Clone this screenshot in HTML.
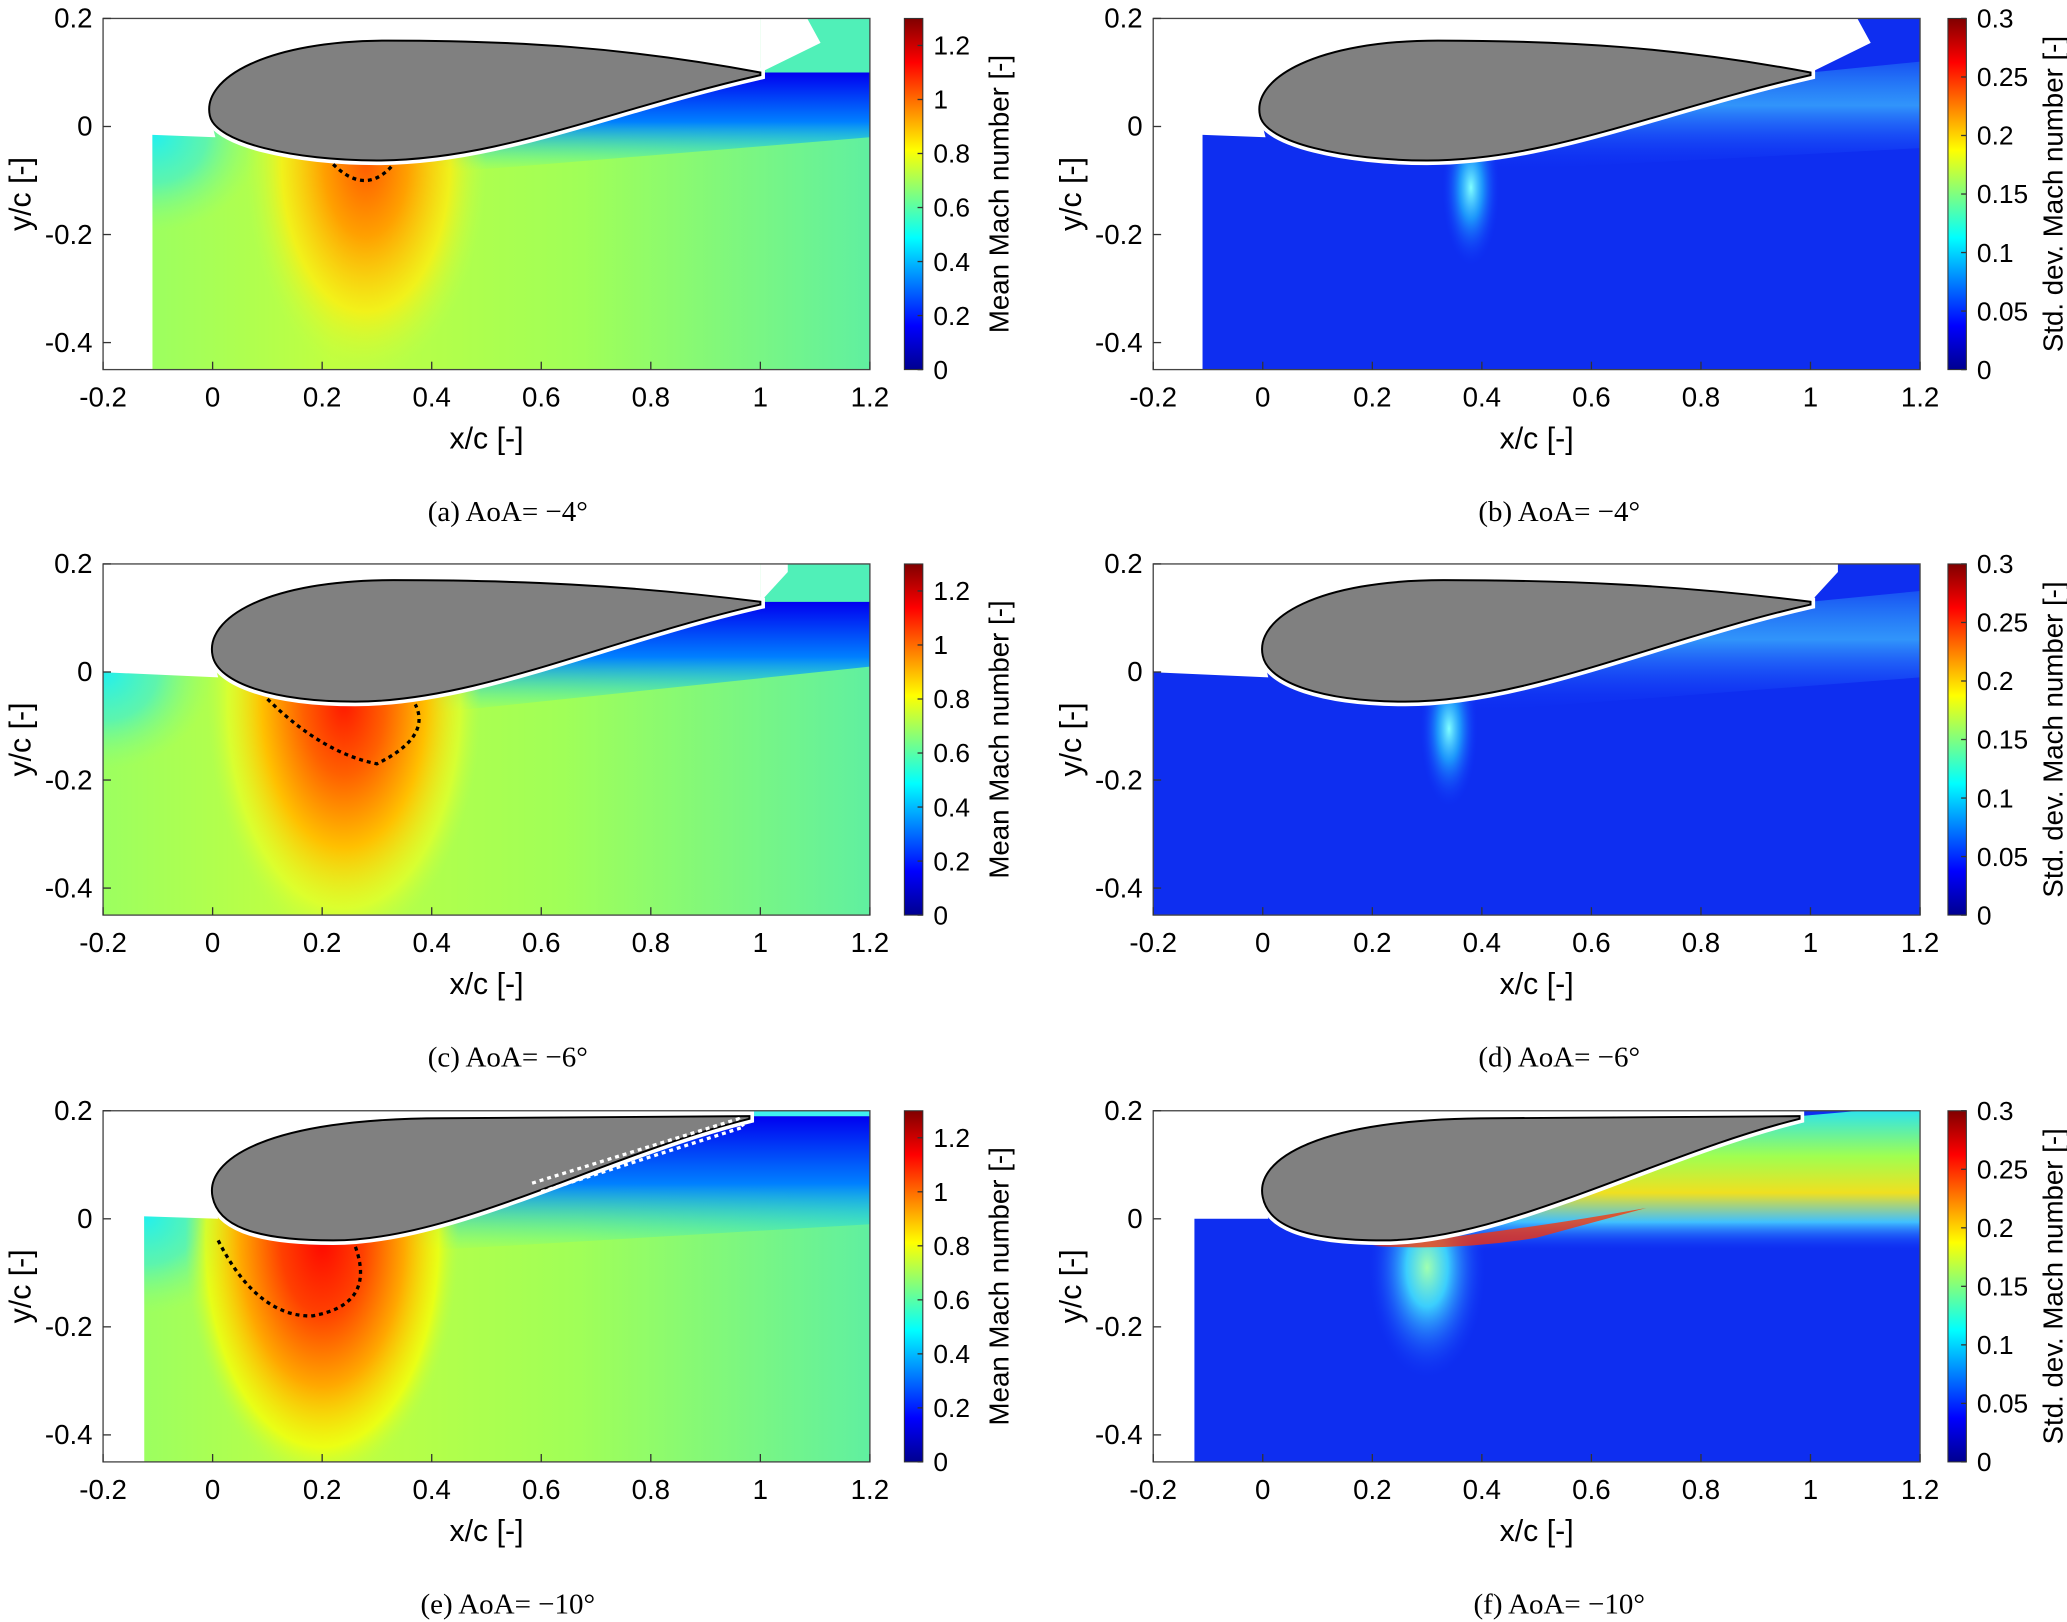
<!DOCTYPE html>
<html><head><meta charset="utf-8"><style>
html,body{margin:0;padding:0;background:#fff;}
svg{display:block;}
text{font-family:"Liberation Sans",sans-serif;}
.cap{font-family:"Liberation Serif",serif;font-size:22px;}
</style></head><body>
<svg id="fig" width="2067" height="1622" viewBox="0 0 1568 1231" xmlns="http://www.w3.org/2000/svg">
<defs id="defs">
<linearGradient id="jet" x1="0" y1="1" x2="0" y2="0">
<stop offset="0" stop-color="#00008f"/><stop offset="0.125" stop-color="#0000ff"/><stop offset="0.375" stop-color="#00ffff"/><stop offset="0.625" stop-color="#ffff00"/><stop offset="0.875" stop-color="#ff0000"/><stop offset="1" stop-color="#800000"/>
</linearGradient>
<linearGradient id="baseM" x1="0" y1="0" x2="1" y2="0"><stop offset="0" stop-color="#9cff60"/><stop offset="0.25" stop-color="#c0ff40"/><stop offset="0.6" stop-color="#a0ff58"/><stop offset="1" stop-color="#60f0a0"/></linearGradient>
<radialGradient id="lePatch" cx="0.5" cy="0.5" r="0.5"><stop offset="0" stop-color="#20f0f0"/><stop offset="0.5" stop-color="#40f0d0" stop-opacity="0.7"/><stop offset="1" stop-color="#80ff80" stop-opacity="0"/></radialGradient>
<radialGradient id="bubA" cx="0.5" cy="0.5" r="0.5"><stop offset="0" stop-color="#ff5a00"/><stop offset="0.35" stop-color="#ffa000"/><stop offset="0.7" stop-color="#ffee10" stop-opacity="0.8"/><stop offset="1" stop-color="#c8ff40" stop-opacity="0"/></radialGradient>
<radialGradient id="bubC" cx="0.5" cy="0.5" r="0.5"><stop offset="0" stop-color="#ff1800"/><stop offset="0.3" stop-color="#ff6000"/><stop offset="0.6" stop-color="#ffc000"/><stop offset="0.85" stop-color="#f0ff20" stop-opacity="0.6"/><stop offset="1" stop-color="#c8ff40" stop-opacity="0"/></radialGradient>
<radialGradient id="bubE" cx="0.5" cy="0.5" r="0.5"><stop offset="0" stop-color="#ff0800"/><stop offset="0.3" stop-color="#ff4000"/><stop offset="0.6" stop-color="#ffa800"/><stop offset="0.85" stop-color="#ffff00" stop-opacity="0.7"/><stop offset="1" stop-color="#c0ff40" stop-opacity="0"/></radialGradient>
<radialGradient id="spot" cx="0.5" cy="0.5" r="0.5"><stop offset="0" stop-color="#80ffff"/><stop offset="0.4" stop-color="#20b0ff" stop-opacity="0.8"/><stop offset="1" stop-color="#1030ff" stop-opacity="0"/></radialGradient>
<radialGradient id="spotF" cx="0.5" cy="0.5" r="0.5"><stop offset="0" stop-color="#a0ffb0"/><stop offset="0.35" stop-color="#40e0ff" stop-opacity="0.9"/><stop offset="1" stop-color="#1030ff" stop-opacity="0"/></radialGradient>
<linearGradient id="wakeM" x1="0" y1="0" x2="0" y2="1"><stop offset="0" stop-color="#0000f0"/><stop offset="0.5" stop-color="#0080ff"/><stop offset="1" stop-color="#20ffe0" stop-opacity="0"/></linearGradient>
<linearGradient id="wakeS" x1="0" y1="0" x2="0" y2="1"><stop offset="0" stop-color="#40e0ff" stop-opacity="0.2"/><stop offset="0.4" stop-color="#40c0ff" stop-opacity="0.7"/><stop offset="1" stop-color="#1030ff" stop-opacity="0"/></linearGradient>
<linearGradient id="wakeF" x1="0" y1="0" x2="0" y2="1"><stop offset="0" stop-color="#20e0ff"/><stop offset="0.35" stop-color="#a0ff50"/><stop offset="0.6" stop-color="#f0e020"/><stop offset="0.8" stop-color="#40c0ff"/><stop offset="1" stop-color="#1030ff" stop-opacity="0"/></linearGradient>
</defs>
</svg>
<script>
const xTicks=[-0.2,0,0.2,0.4,0.6,0.8,1,1.2];
const yTicks=[0.2,0,-0.2,-0.4];
const meanTicks=[0,0.2,0.4,0.6,0.8,1,1.2];
const stdTicks=[0,0.05,0.1,0.15,0.2,0.25,0.3];
const captions=["(a) AoA= \u22124\u00b0","(b) AoA= \u22124\u00b0","(c) AoA= \u22126\u00b0","(d) AoA= \u22126\u00b0","(e) AoA= \u221210\u00b0","(f) AoA= \u221210\u00b0"];
const panels=[
 {ox:161,oy:96,xmin:-0.11,ly:-0.015,kind:'mean',bub:'bubA'},
 {ox:958,oy:96,xmin:-0.11,ly:-0.015,kind:'std'},
 {ox:161,oy:510,xmin:-0.2,ly:0.0,kind:'mean',bub:'bubC'},
 {ox:958,oy:510,xmin:-0.2,ly:0.0,kind:'std'},
 {ox:161,oy:925,xmin:-0.125,ly:0.005,kind:'mean',bub:'bubE'},
 {ox:958,oy:925,xmin:-0.125,ly:0.0,kind:'std'}];
const foils=[
 {le:[-0.005,0.02],top:[0.32,0.159],te:[1.0,0.1],low:[0.3,-0.063]},
 {le:[0,0.03],top:[0.33,0.17],te:[1.0,0.13],low:[0.26,-0.055]},
 {le:[0,0.04],top:[0.42,0.186],te:[0.98,0.19],low:[0.22,-0.04]}];
const SX=415.7,SY=410;
const NS="http://www.w3.org/2000/svg";
const svg=document.getElementById('fig');
const defs=document.getElementById('defs');
function el(t,a,p){const e=document.createElementNS(NS,t);for(const k in a)e.setAttribute(k,a[k]);(p||svg).appendChild(e);return e;}
panels.forEach((P,i)=>{
 const X=x=>P.ox+SX*x, Y=y=>P.oy-SY*y;
 const g=el('g',{});
 
 
 const F=foils[Math.floor(i/2)];
 const pt=(x,y)=>X(x).toFixed(1)+','+Y(y).toFixed(1);
 const xr=1.2, yb=-0.45;
 const cp=el('clipPath',{id:'clip'+i},defs);
 el('rect',{x:X(P.xmin),y:Y(0.2),width:X(xr)-X(P.xmin),height:Y(yb)-Y(0.2)},cp);
 const fg=el('g',{'clip-path':'url(#clip'+i+')'},g);
 const base=P.kind==='mean'?'url(#baseM)':'#0e2ef0';
 const fld=el('rect',{x:X(P.xmin),y:Y(0.2),width:X(xr)-X(P.xmin),height:Y(yb)-Y(0.2),fill:base},fg);
 
 
 if(P.kind==='mean'){
  el('path',{d:'M'+pt(F.low[0]+0.05,F.low[1]+0.01)+' L'+pt(F.te[0],F.te[1])+' L'+pt(xr,F.te[1])+' L'+pt(xr,F.te[1]-(i===4?0.2:0.12))+' L'+pt(F.low[0]+0.15,F.low[1]-0.02)+'Z',fill:'url(#wakeM)'},fg);
  el('rect',{x:X(F.te[0]),y:Y(0.2),width:X(xr)-X(F.te[0]),height:SY*(0.2-F.te[1]),fill:i===4?'#40f0f0':'#50f0b8'},fg);
  el('ellipse',{cx:X(P.xmin),cy:Y(P.ly),rx:SX*0.2,ry:SY*0.18,fill:'url(#lePatch)'},fg);
  const b=el('ellipse',{cx:X(F.low[0]-0.02),cy:Y(F.low[1]),rx:SX*(i===0?0.22:0.25),ry:SY*(i===0?0.4:0.45),fill:'url(#'+P.bub+')'},fg);
  
  
 } else {
  const wk=i===5?'url(#wakeF)':'url(#wakeS)';
  el('path',{d:'M'+pt(F.low[0],F.low[1]+0.01)+' L'+pt(F.te[0],F.te[1])+' L'+pt(xr,F.te[1]+0.02)+' L'+pt(xr,F.te[1]-(i===5?0.25:0.14))+' L'+pt(F.low[0]+0.1,F.low[1]-0.02)+'Z',fill:wk},fg);
  const s=el('ellipse',{cx:X(F.low[0]+0.08),cy:Y(F.low[1]-0.05),rx:i===5?45:22,ry:i===5?85:60,fill:i===5?'url(#spotF)':'url(#spot)'},fg);
  
  
  if(i===5) el('path',{d:'M'+pt(0.2,-0.05)+' Q'+pt(0.45,-0.025)+' '+pt(0.7,0.02)+' L'+pt(0.5,-0.035)+' Q'+pt(0.35,-0.06)+' '+pt(0.2,-0.05)+'Z',fill:'#ff3000',opacity:0.75},fg);
  if(i===1) el('path',{d:'M'+pt(0.5,-0.045)+' L'+pt(0.7,0.03)+' L'+pt(0.55,-0.03)+'Z',fill:'#ffd000',opacity:0.6},fg);
 }
 const [lx,ly]=F.le,[tx,ty]=F.top,[ex,ey]=F.te,[wx,wy]=F.low;
 const d='M'+pt(ex,ey)+' C'+pt(0.75,ey+(ty-ey)*0.8)+' '+pt(0.55,ty)+' '+pt(tx,ty)+' C'+pt(0.1,ty)+' '+pt(lx-0.015,ly+0.07)+' '+pt(lx,ly)+' C'+pt(lx+0.01,ly-0.05)+' '+pt(wx-0.15,wy)+' '+pt(wx,wy)+' C'+pt(wx+0.22,wy)+' '+pt(0.72,ey-0.07)+' '+pt(ex,ey-0.005)+'Z';
 const cover='M'+pt(P.xmin-0.01,0.21)+' L'+pt(P.xmin-0.01,P.ly)+' L'+pt(lx+0.01,ly-0.04)+' L'+pt(lx,ly)+' L'+pt(tx,ty)+' L'+pt(ex,ey)+' L'+pt(ex,0.21)+'Z';
 el('path',{d:cover,fill:'#fff'},g);
 if(i<2){el('path',{d:'M'+pt(ex,ey)+' L'+pt(1.11,0.155)+' L'+pt(1.08,0.21)+' L'+pt(ex,0.21)+'Z',fill:'#fff'},g);}
 if(i===2||i===3){el('path',{d:'M'+pt(ex,ey)+' L'+pt(1.05,0.185)+' L'+pt(1.05,0.21)+' L'+pt(ex,0.21)+'Z',fill:'#fff'},g);}
 el('path',{d:d,fill:'none',stroke:'#fff','stroke-width':7},g);
 const af=el('path',{d:d,fill:'#808080',stroke:'#000','stroke-width':1.5},g);
 
 
 if(i===0) el('path',{d:'M'+pt(0.22,-0.07)+' Q'+pt(0.28,-0.13)+' '+pt(0.33,-0.07),fill:'none',stroke:'#000','stroke-width':2.5,'stroke-dasharray':'3 3'},g);
 if(i===2) el('path',{d:'M'+pt(0.1,-0.05)+' Q'+pt(0.2,-0.15)+' '+pt(0.3,-0.17)+' Q'+pt(0.4,-0.12)+' '+pt(0.37,-0.06),fill:'none',stroke:'#000','stroke-width':2.5,'stroke-dasharray':'3 3'},g);
 if(i===4){el('path',{d:'M'+pt(0.01,-0.04)+' Q'+pt(0.08,-0.18)+' '+pt(0.18,-0.18)+' Q'+pt(0.3,-0.16)+' '+pt(0.26,-0.05),fill:'none',stroke:'#000','stroke-width':2.5,'stroke-dasharray':'3 3'},g);
  el('path',{d:'M'+pt(0.6,0.05)+' L'+pt(0.97,0.17)+' L'+pt(0.96,0.185)+' L'+pt(0.58,0.065),fill:'none',stroke:'#fff','stroke-width':2.5,'stroke-dasharray':'3 3'},g);}
 const fr=el('rect',{x:X(-0.2),y:Y(0.2),width:X(1.2)-X(-0.2),height:Y(yb)-Y(0.2),fill:'none',stroke:'#444','stroke-width':1},g);
 
 
 xTicks.forEach(t=>{el('line',{x1:X(t),x2:X(t),y1:Y(yb),y2:Y(yb)-6,stroke:'#333'},g);
  const tx=el('text',{x:X(t),y:Y(yb)+28,'text-anchor':'middle','font-size':21},g);tx.textContent=t;
  });
 yTicks.forEach(t=>{el('line',{x1:X(-0.2),x2:X(-0.2)+6,y1:Y(t),y2:Y(t),stroke:'#333'},g);
  const ty=el('text',{x:X(-0.2)-8,y:Y(t)+7,'text-anchor':'end','font-size':21},g);ty.textContent=t;
  });
 const xl=el('text',{x:X(0.5),y:Y(yb)+60,'text-anchor':'middle','font-size':23},g);xl.textContent='x/c [-]';
 
 const yl=el('text',{x:0,y:0,'text-anchor':'middle','font-size':23,transform:'translate('+(X(-0.2)-55)+','+Y(-0.125)+') rotate(-90)'},g);yl.textContent='y/c [-]';
 
 const cbx=i%2===0?686:1478, top=Y(0.2), bot=Y(yb);
 const cb=el('rect',{x:cbx,y:top,width:14,height:bot-top,fill:'url(#jet)',stroke:'#333','stroke-width':0.8},g);
 
 const ticks=P.kind==='mean'?meanTicks:stdTicks, vmax=P.kind==='mean'?1.3:0.3;
 ticks.forEach(t=>{const yy=bot-(bot-top)*t/vmax;
  el('line',{x1:cbx+10,x2:cbx+14,y1:yy,y2:yy,stroke:'#333'},g);
  const ct=el('text',{x:cbx+22,y:yy+7,'font-size':20},g);ct.textContent=t;
  });
 const ct=el('text',{x:0,y:0,'text-anchor':'middle','font-size':21,transform:'translate('+(cbx+(P.kind==='mean'?79:87))+','+((top+bot)/2)+') rotate(-90)'},g);
 ct.textContent=P.kind==='mean'?'Mean Mach number [-]':'Std. dev. Mach number [-]';
 
 const cap=el('text',{x:i%2===0?385:1183,y:Y(yb)+115,'text-anchor':'middle','class':'cap'},g);cap.textContent=captions[i];
 
});
</script>
</body></html>
